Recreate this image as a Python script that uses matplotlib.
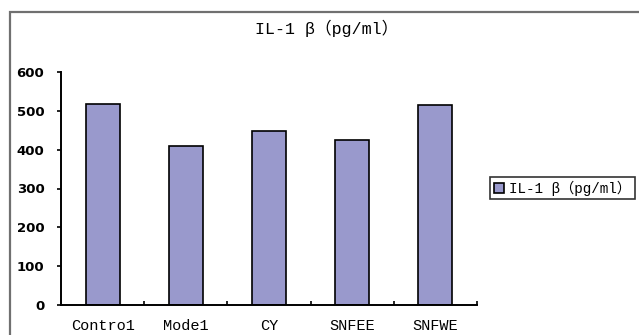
import matplotlib.pyplot as plt
from matplotlib.patches import Rectangle

# data
groups = ["Contro1", "Mode1", "CY", "SNFEE", "SNFWE"]
il1b = [517, 409, 448, 424, 514]
yticks = [0, 100, 200, 300, 400, 500, 600]

label = "IL-1 β（pg/ml）"
mono = ["Liberation Mono", "Noto Sans CJK SC", "DejaVu Sans"]

fig = plt.figure(figsize=(6.39, 3.35), dpi=100)
fig.patch.set_facecolor("white")

# grey outer frame (runs off the right and bottom edges)
fig.patches.append(Rectangle((10 / 639, -0.1), 1.0, (335 - 12) / 335 + 0.1,
                             transform=fig.transFigure, fill=False,
                             edgecolor="#707070", linewidth=1.6))

ax = fig.add_axes([61 / 639, 1 - 305 / 335, (477 - 61) / 639, (305 - 72) / 335])
x = range(len(groups))
ax.bar(x, il1b, width=0.41, color="#9999cc", edgecolor="black",
       linewidth=1.2, label=label)

ax.set_xlim(-0.5, len(groups) - 0.5)
ax.set_ylim(0, 600)
ax.set_yticks(yticks)
ax.set_yticklabels([str(v) for v in yticks], fontsize=9.5, fontweight="bold",
                   family="DejaVu Sans")
ax.set_xticks(list(x))
ax.set_xticklabels(groups, fontsize=11, family=mono)
ax.tick_params(axis="x", length=0, pad=10)
ax.set_xticks([i + 0.5 for i in range(len(groups))], minor=True)
ax.tick_params(axis="x", which="minor", direction="in", length=3, width=1.2)
ax.tick_params(axis="y", direction="out", length=3, width=1.2, pad=9)

for s in ["top", "right"]:
    ax.spines[s].set_visible(False)
for s in ["left", "bottom"]:
    ax.spines[s].set_linewidth(1.4)

fig.text(327 / 639, 1 - 28 / 335, label, ha="center", va="center",
         fontsize=12, family=mono)

leg = fig.legend(loc="upper left", bbox_to_anchor=(490 / 639, 1 - 177 / 335),
                 prop={"family": mono, "size": 10.3}, frameon=True,
                 fancybox=False, handlelength=0.7, handleheight=0.7,
                 handletextpad=0.4, borderpad=0.25, borderaxespad=0)
leg.get_frame().set_edgecolor("black")
leg.get_frame().set_linewidth(1.2)

plt.savefig("out.png", dpi=100)
